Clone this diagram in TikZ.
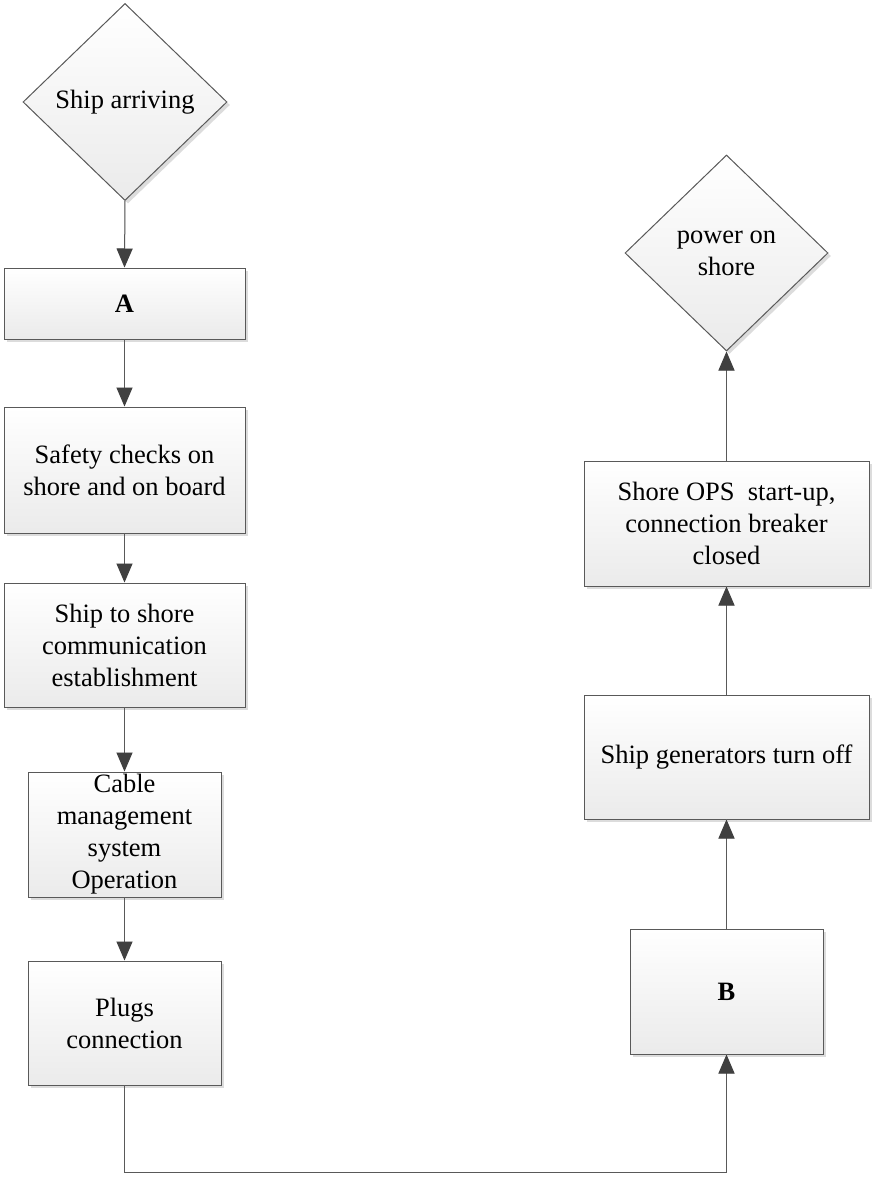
\documentclass[tikz,border=0pt]{standalone}
\usepackage{fontspec}
\setmainfont{Liberation Serif}
\usetikzlibrary{shapes.geometric,shadows,arrows.meta}
\definecolor{edgecol}{HTML}{595959}
\definecolor{tipcol}{HTML}{404040}
\definecolor{shadcol}{HTML}{DCDCDC}
\begin{document}
\begin{tikzpicture}[x=1pt,y=-1pt,
  every node/.style={font=\fontsize{26.5}{32}\selectfont, inner sep=0pt, align=center, text=black},
  blk/.style={rectangle, draw=edgecol, line width=1pt, top color=white, bottom color=black!8,
    drop shadow={shadow xshift=3pt, shadow yshift=-3pt, fill=shadcol, opacity=1}},
  dec/.style={diamond, draw=edgecol, line width=1pt, top color=white, bottom color=black!8,
    drop shadow={shadow xshift=3pt, shadow yshift=-3pt, fill=shadcol, opacity=1}},
  conn/.style={draw=edgecol, line width=1pt, -{Triangle[width=16pt,length=19pt,fill=tipcol,color=tipcol]}},
  connshad/.style={draw=shadcol, line width=1pt, -{Triangle[width=16pt,length=19pt,fill=shadcol,color=shadcol]}}
]
\useasboundingbox (0,0) rectangle (873,1180);

\node[dec, minimum width=204pt, minimum height=197pt] (arr) at (125,102) {Ship arriving};
\node[blk, minimum width=241pt, minimum height=71pt] (A) at (124.5,303.5) {\textbf{A}};
\node[blk, minimum width=241pt, minimum height=126pt] (safety) at (124.5,470) {Safety checks on\\shore and on board};
\node[blk, minimum width=241pt, minimum height=124pt] (s2s) at (124.5,645) {Ship to shore\\communication\\establishment};
\node[blk, minimum width=193pt, minimum height=125pt] (cable) at (124.5,834.5) {Cable\\management\\system\\Operation};
\node[blk, minimum width=193pt, minimum height=124pt] (plugs) at (124.5,1023) {Plugs\\connection};

\node[blk, minimum width=193pt, minimum height=125pt] (B) at (726.5,991.5) {\textbf{B}};
\node[blk, minimum width=285pt, minimum height=124pt] (gen) at (726.5,757) {Ship generators turn off};
\node[blk, minimum width=285pt, minimum height=125pt] (ops) at (726.5,523.5) {Shore OPS\ \ start-up,\\connection breaker\\closed};
\node[dec, minimum width=203pt, minimum height=196pt] (pwr) at (726.5,253) {power on\\shore};

\coordinate (c1) at (124.5,1172);
\coordinate (c2) at (726.5,1172);

% connector shadows
\begin{scope}[shift={(3,3)}]
\draw[connshad] (arr.south) -- (A.north);
\draw[connshad] (A.south) -- (safety.north);
\draw[connshad] (safety.south) -- (s2s.north);
\draw[connshad] (s2s.south) -- (cable.north);
\draw[connshad] (cable.south) -- (plugs.north);
\draw[connshad] (plugs.south) -- (c1) -- (c2) -- (B.south);
\draw[connshad] (B.north) -- (gen.south);
\draw[connshad] (gen.north) -- (ops.south);
\draw[connshad] (ops.north) -- (pwr.south);
\end{scope}

% connectors
\draw[conn] (arr.south) -- (A.north);
\draw[conn] (A.south) -- (safety.north);
\draw[conn] (safety.south) -- (s2s.north);
\draw[conn] (s2s.south) -- (cable.north);
\draw[conn] (cable.south) -- (plugs.north);
\draw[conn] (plugs.south) -- (c1) -- (c2) -- (B.south);
\draw[conn] (B.north) -- (gen.south);
\draw[conn] (gen.north) -- (ops.south);
\draw[conn] (ops.north) -- (pwr.south);
\end{tikzpicture}
\end{document}
